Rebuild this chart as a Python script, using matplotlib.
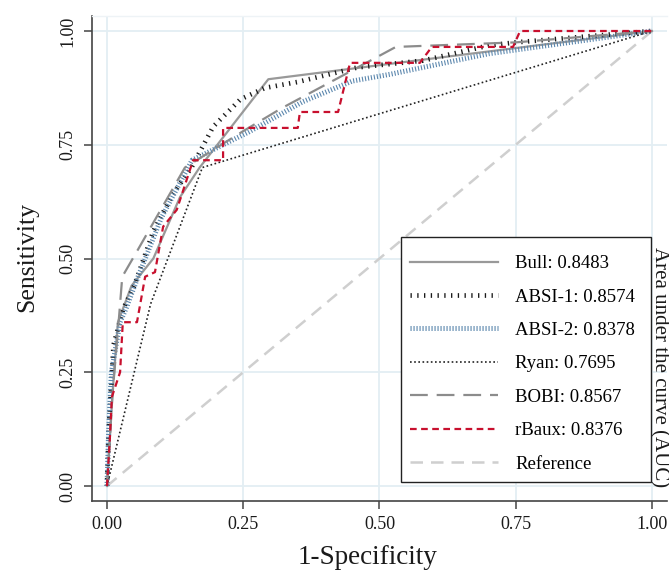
import matplotlib
matplotlib.use("Agg")
import matplotlib.pyplot as plt
from matplotlib.patches import Rectangle

plt.rcParams['font.family'] = ['Liberation Serif', 'DejaVu Serif']

# ---- data ----
bull_x = [0, 0.01, 0.02, 0.045, 0.085, 0.134, 0.17, 0.296, 0.60, 1.0]
bull_y = [0, 0.20, 0.36, 0.44, 0.50, 0.635, 0.70, 0.894, 0.94, 1.0]

absi1_x = [0, 0.003, 0.012, 0.03, 0.05, 0.085, 0.12, 0.155, 0.195, 0.245, 0.29, 0.35, 0.46, 0.58, 0.70, 0.75, 1.0]
absi1_y = [0, 0.12, 0.31, 0.39, 0.44, 0.56, 0.64, 0.70, 0.79, 0.85, 0.875, 0.888, 0.92, 0.935, 0.968, 0.975, 1.0]

absi2_x = [0, 0.003, 0.008, 0.024, 0.035, 0.057, 0.10, 0.156, 0.26, 0.36, 0.45, 0.52, 0.70, 1.0]
absi2_y = [0, 0.12, 0.25, 0.36, 0.39, 0.46, 0.59, 0.716, 0.778, 0.845, 0.89, 0.905, 0.95, 1.0]

ryan_x = [0, 0.08, 0.175, 1.0]
ryan_y = [0, 0.40, 0.70, 1.0]

bobi_x = [0, 0.01, 0.022, 0.028, 0.057, 0.10, 0.143, 0.25, 0.32, 0.44, 0.53, 0.75, 1.0]
bobi_y = [0, 0.20, 0.37, 0.46, 0.52, 0.61, 0.70, 0.78, 0.83, 0.907, 0.965, 0.975, 1.0]

rbaux_x = [0, 0.005, 0.009, 0.024, 0.029, 0.055, 0.07, 0.088, 0.103, 0.128, 0.158, 0.213, 0.213,
           0.35, 0.354, 0.424, 0.446, 0.574, 0.596, 0.745, 0.758, 1.0]
rbaux_y = [0, 0.10, 0.196, 0.25, 0.36, 0.36, 0.46, 0.47, 0.57, 0.607, 0.716, 0.716, 0.787,
           0.787, 0.822, 0.822, 0.93, 0.93, 0.965, 0.965, 1.0, 1.0]

ref_x = [0, 1]
ref_y = [0, 1]

labels = ["Bull: 0.8483", "ABSI-1: 0.8574", "ABSI-2: 0.8378", "Ryan: 0.7695",
          "BOBI: 0.8567", "rBaux: 0.8376", "Reference"]
ticks = [0, 0.25, 0.5, 0.75, 1.0]
tick_labels = ["0.00", "0.25", "0.50", "0.75", "1.00"]

W, H = 669, 574
fig = plt.figure(figsize=(W / 100, H / 100), dpi=100)
L, R, T, B = 92, 667, 16, 501
ax = fig.add_axes([L / W, (H - B) / H, (R - L) / W, (B - T) / H])

ax.set_xlim(-15 / 545, 560 / 545)
ax.set_ylim(-15 / 455, 470 / 455)

grid_c = '#e3eef3'
for t in ticks:
    ax.axvline(t, color=grid_c, lw=1.3, zorder=0)
    ax.axhline(t, color=grid_c, lw=1.3, zorder=0)

h_ref, = ax.plot(ref_x, ref_y, color='#cfcfcf', lw=1.8, linestyle=(0, (5, 3.2)), zorder=1)
h_bull, = ax.plot(bull_x, bull_y, color='#999999', lw=1.6, zorder=2)
h_a1, = ax.plot(absi1_x, absi1_y, color='#1a1a1a', lw=3.4, linestyle=(0, (0.28, 1.15)),
                dash_capstyle='butt', zorder=3)
h_a2, = ax.plot(absi2_x, absi2_y, color='#5a86ad', lw=3.6, linestyle=(0, (0.22, 0.38)),
                dash_capstyle='butt', zorder=3)
h_ryan, = ax.plot(ryan_x, ryan_y, color='#222222', lw=1.2, linestyle=(0, (1, 1.5)), zorder=4)
h_bobi, = ax.plot(bobi_x, bobi_y, color='#8c8c8c', lw=1.6, linestyle=(0, (8, 4)), zorder=4)
h_rb, = ax.plot(rbaux_x, rbaux_y, color='#c8102e', lw=1.6, linestyle=(0, (3, 2)), zorder=5)

ax.spines['right'].set_visible(False)
ax.spines['top'].set_color('#eef3f6')
ax.spines['top'].set_linewidth(1.0)
for s in ['left', 'bottom']:
    ax.spines[s].set_color('#444444')
    ax.spines[s].set_linewidth(1.2)

ax.set_xticks(ticks)
ax.set_xticklabels(tick_labels)
ax.set_yticks(ticks)
ax.set_yticklabels(tick_labels, rotation=90, va='center')
ax.tick_params(axis='both', direction='out', length=6, width=1.1, color='#444444',
               labelsize=13, labelcolor='#1a1a1a', pad=5)

fig.text(368 / W, 1 - 558 / H, "1-Specificity", ha='center', va='center', fontsize=19.5, color='#1a1a1a')
fig.text(27 / W, 1 - 257 / H, "Sensitivity", ha='center', va='center', fontsize=18.5,
         rotation=90, color='#1a1a1a')

# legend frame drawn explicitly
frame = Rectangle((401 / W, 1 - 482 / H), 250 / W, 245 / H, transform=fig.transFigure,
                  facecolor='white', edgecolor='#222222', lw=1.0, zorder=9)
ax.add_artist(frame)
frame.set_clip_on(False)

leg = ax.legend([h_bull, h_a1, h_a2, h_ryan, h_bobi, h_rb, h_ref], labels,
                loc='upper left', bbox_to_anchor=(410 / W, 1 - 255 / H),
                bbox_transform=fig.transFigure, fontsize=13.5, frameon=False,
                handlelength=4.7, handletextpad=0.9, labelspacing=0.87,
                borderpad=0, borderaxespad=0)
leg.set_zorder(10)

fig.text(659.5 / W, 1 - 367 / H, "Area under the curve (AUC)", ha='center', va='center',
         rotation=270, fontsize=15, color='#1a1a1a')

fig.savefig("out.png", dpi=100)
